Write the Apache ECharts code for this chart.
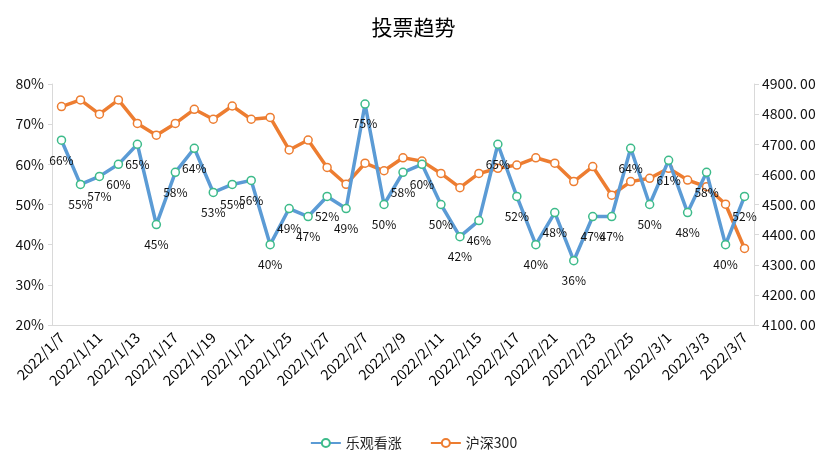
<!DOCTYPE html>
<html><head><meta charset="utf-8">
<script src="https://cdn.jsdelivr.net/npm/echarts@6/dist/echarts.min.js"></script>
<style>html,body{margin:0;padding:0;background:#fff}#c{width:827px;height:473px}</style>
</head><body><div id="c"></div>
<script>
const categories = ['2022/1/7','2022/1/10','2022/1/11','2022/1/12','2022/1/13','2022/1/14','2022/1/17','2022/1/18','2022/1/19','2022/1/20','2022/1/21','2022/1/24','2022/1/25','2022/1/26','2022/1/27','2022/1/28','2022/2/7','2022/2/8','2022/2/9','2022/2/10','2022/2/11','2022/2/14','2022/2/15','2022/2/16','2022/2/17','2022/2/18','2022/2/21','2022/2/22','2022/2/23','2022/2/24','2022/2/25','2022/2/28','2022/3/1','2022/3/2','2022/3/3','2022/3/4','2022/3/7'];
const bullish = [66,55,57,60,65,45,58,64,53,55,56,40,49,47,52,49,75,50,58,60,50,42,46,65,52,40,48,36,47,47,64,50,61,48,58,40,52];
const hs300 = [4825,4847,4800,4847,4769,4730,4769,4816,4783,4827,4783,4789,4681,4714,4623,4567,4637,4612,4655,4644,4603,4556,4603,4620,4631,4655,4637,4576,4626,4531,4576,4587,4620,4581,4559,4501,4354];
const leftTicks = [20,80,10];
const rightTicks = [4100,4900,100];

const chart = echarts.init(document.getElementById('c'));
const font = '"Noto Sans CJK SC", "DejaVu Sans", sans-serif';
chart.setOption({
  backgroundColor:'#fff',
  animation:false,
  title:{text:'投票趋势',left:'center',top:12,textStyle:{fontFamily:font,fontSize:21,fontWeight:'normal',color:'#000'}},
  legend:{bottom:18,left:'center',itemWidth:30,itemHeight:10,itemGap:28,
    textStyle:{fontFamily:font,fontSize:14,color:'#222'},
    data:['乐观看涨','沪深300']},
  grid:{left:52,right:73,top:84,bottom:148},
  xAxis:{type:'category',data:categories,boundaryGap:true,
    axisLine:{lineStyle:{color:'#d9d9d9'}},axisTick:{show:false},
    axisLabel:{interval:1,rotate:45,color:'#000',fontSize:14.5,fontFamily:font,margin:10}},
  yAxis:[
    {type:'value',min:leftTicks[0],max:leftTicks[1],interval:leftTicks[2],
     axisLine:{show:true,lineStyle:{color:'#d9d9d9'}},axisTick:{show:true,length:4,lineStyle:{color:'#d9d9d9'}},
     splitLine:{show:false},
     axisLabel:{formatter:'{value}%',color:'#111',fontSize:14,fontFamily:font,margin:8}},
    {type:'value',min:rightTicks[0],max:rightTicks[1],interval:rightTicks[2],position:'right',
     axisLine:{show:true,lineStyle:{color:'#d9d9d9'}},axisTick:{show:true,length:5,lineStyle:{color:'#d9d9d9'}},
     splitLine:{show:false},
     axisLabel:{formatter:v=>v.toFixed(2).replace('.','. '),color:'#111',fontSize:14,fontFamily:font,margin:8}}
  ],
  series:[
    {name:'乐观看涨',type:'line',yAxisIndex:0,data:bullish,symbol:'circle',symbolSize:8,
     lineStyle:{color:'#5b9bd5',width:3.5},
     itemStyle:{color:'#fff',borderColor:'#3dbb8a',borderWidth:1.5},
     label:{show:true,position:'bottom',distance:9,formatter:'{c}%',color:'#111',fontSize:12,fontFamily:font},
     z:3},
    {name:'沪深300',type:'line',yAxisIndex:1,data:hs300,symbol:'circle',symbolSize:8,
     lineStyle:{color:'#ed7d31',width:3.5},
     itemStyle:{color:'#fff',borderColor:'#ed7d31',borderWidth:1.5},
     z:2}
  ]
});
</script></body></html>
